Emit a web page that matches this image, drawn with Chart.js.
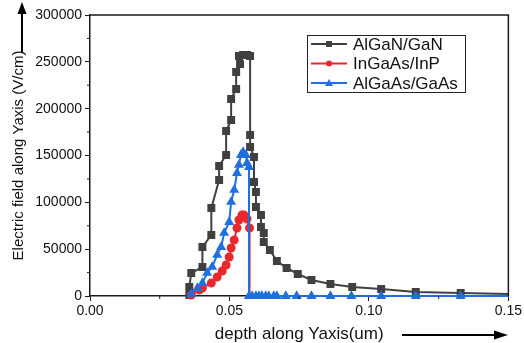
<!DOCTYPE html>
<html>
<head>
<meta charset="utf-8">
<script src="https://cdn.jsdelivr.net/npm/chart.js@4.4.1/dist/chart.umd.min.js"></script>
<style>
  html, body { margin: 0; padding: 0; background: #fff; }
  #wrap { width: 524px; height: 343px; }
</style>
</head>
<body>
<div id="wrap"><canvas id="fieldChart"></canvas></div>
<script>
// series: depth (um) and field (V/cm)
const seriesNames = ['AlGaN/GaN', 'InGaAs/InP', 'AlGaAs/GaAs'];

const alganX = [0.0356, 0.0356, 0.0363, 0.0403, 0.0403, 0.0435, 0.0435, 0.0463, 0.0463, 0.0488,
                0.0488, 0.0506, 0.0506, 0.0524, 0.0524, 0.0538, 0.0534, 0.0549, 0.0563, 0.0574,
                0.0574, 0.0574, 0.0588, 0.0588, 0.0595, 0.0595, 0.0613, 0.0613, 0.0623, 0.0623,
                0.0645, 0.0670, 0.0705, 0.0745, 0.0794, 0.0862, 0.0940, 0.1044, 0.1168, 0.1329,
                0.1500];
const alganY = [1000, 9600, 24500, 31000, 52300, 65100, 94000, 123800, 138800, 150500,
                176100, 187900, 210300, 221000, 239100, 247700, 256200, 257300, 257300, 256200,
                171900, 159100, 148400, 121700, 111000, 95000, 86500, 73700, 67300, 57600,
                49100, 37400, 29900, 23500, 17100, 12800, 9600, 7500, 4300, 3200,
                2100];

const ingaasX = [0.0363, 0.0392, 0.0403, 0.0435, 0.0456, 0.0474, 0.0488, 0.0499, 0.0506, 0.0517,
                 0.0527, 0.0534, 0.0545, 0.0552, 0.0563, 0.0572, 0.0572];
const ingaasY = [1100, 6400, 8500, 13900, 20300, 26700, 33100, 41600, 51200, 59800,
                 72600, 81100, 86500, 86500, 82200, 72600, 0];

const algaasX = [0.0363, 0.0385, 0.0403, 0.0420, 0.0438, 0.0456, 0.0470, 0.0481, 0.0499, 0.0506,
                 0.0517, 0.0527, 0.0534, 0.0541, 0.0549, 0.0559, 0.0563, 0.0570, 0.0570, 0.0581,
                 0.0595, 0.0606, 0.0616, 0.0630, 0.0641, 0.0659, 0.0670, 0.0702, 0.0741, 0.0794,
                 0.0862, 0.0937, 0.1044, 0.1168, 0.1329, 0.1500];
const algaasY = [2100, 8500, 13900, 24600, 31000, 43800, 52300, 67300, 79000, 100400,
                 113200, 131300, 139900, 150500, 153700, 150500, 142000, 137700, 0, 0,
                 0, 0, 0, 0, 0, 0, 0, 0, 0, 0,
                 0, 0, 0, 0, 0, 0];

const xTicks = [0, 0.05, 0.10, 0.15];
const yTicks = [0, 50000, 100000, 150000, 200000, 250000, 300000];

const toPoints = (xs, ys) => xs.map((x, i) => ({ x: x, y: ys[i] }));

// the curves end without a marker on their last point
const lastNoMarker = r => ctx => ctx.dataIndex === ctx.dataset.data.length - 1 ? 0 : r;

const axisColor = '#1a1a1a';
const fontFam = '"Liberation Sans", Arial, sans-serif';

// frame, minor ticks, arrows, boxed legend
const decorations = {
  id: 'decorations',
  afterDraw(chart) {
    const c = chart.ctx;
    const a = chart.chartArea;
    const xs = chart.scales.x, ys = chart.scales.y;
    c.save();
    c.strokeStyle = axisColor;
    c.lineWidth = 1.5;
    c.beginPath();
    c.moveTo(a.left, a.top); c.lineTo(a.right, a.top); c.lineTo(a.right, a.bottom);
    c.stroke();

    // minor ticks
    c.lineWidth = 1;
    c.beginPath();
    for (let i = 0; i < yTicks.length - 1; i++) {
      const py = ys.getPixelForValue((yTicks[i] + yTicks[i + 1]) / 2);
      c.moveTo(a.left, py); c.lineTo(a.left - 3, py);
    }
    for (let i = 0; i < xTicks.length - 1; i++) {
      const px = xs.getPixelForValue((xTicks[i] + xTicks[i + 1]) / 2);
      c.moveTo(px, a.bottom); c.lineTo(px, a.bottom + 3);
    }
    c.stroke();

    // arrows next to the axis titles
    c.fillStyle = '#000';
    c.strokeStyle = '#000';
    c.lineWidth = 2;
    c.beginPath(); c.moveTo(22, 52); c.lineTo(22, 12); c.stroke();
    c.beginPath(); c.moveTo(22, 2); c.lineTo(17.5, 14); c.lineTo(26.5, 14); c.closePath(); c.fill();
    c.beginPath(); c.moveTo(402, 335); c.lineTo(496, 335); c.stroke();
    c.beginPath(); c.moveTo(508, 335); c.lineTo(494, 330.5); c.lineTo(494, 339.5); c.closePath(); c.fill();

    // legend box
    const bx = 307, by = 35, bw = 158, bh = 57;
    c.lineWidth = 1;
    c.strokeStyle = '#222';
    c.strokeRect(bx + 0.5, by + 0.5, bw, bh);
    c.font = '17px ' + fontFam;
    c.textBaseline = 'middle';
    chart.data.datasets.forEach((ds, i) => {
      const ry = by + 9 + i * 19.5;
      c.strokeStyle = ds.borderColor;
      c.lineWidth = 2;
      c.beginPath(); c.moveTo(bx + 4, ry); c.lineTo(bx + 40, ry); c.stroke();
      c.fillStyle = ds.borderColor;
      const mx = bx + 22;
      c.beginPath();
      if (ds.pointStyle === 'rect') c.rect(mx - 3, ry - 3, 6, 6);
      else if (ds.pointStyle === 'circle') c.arc(mx, ry, 3, 0, Math.PI * 2);
      else { c.moveTo(mx, ry - 4); c.lineTo(mx - 4, ry + 3); c.lineTo(mx + 4, ry + 3); c.closePath(); }
      c.fill();
      c.fillStyle = '#111';
      c.fillText(ds.label, bx + 46, ry + 1);
    });
    c.restore();
  }
};

const ctx = document.getElementById('fieldChart').getContext('2d');
const fieldChart = new Chart(ctx, {
  type: 'scatter',
  data: {
    datasets: [
      {
        label: seriesNames[0],
        data: toPoints(alganX, alganY),
        showLine: true,
        borderColor: '#404040',
        backgroundColor: '#404040',
        borderWidth: 2,
        pointStyle: 'rect',
        pointRadius: lastNoMarker(4.2),
        order: 2,
        clip: false
      },
      {
        label: seriesNames[1],
        data: toPoints(ingaasX, ingaasY),
        showLine: true,
        borderColor: '#e8282c',
        backgroundColor: '#e8282c',
        borderWidth: 2,
        pointStyle: 'circle',
        pointRadius: lastNoMarker(3.5),
        order: 1,
        clip: false
      },
      {
        label: seriesNames[2],
        data: toPoints(algaasX, algaasY),
        showLine: true,
        borderColor: '#1f6fe0',
        backgroundColor: '#1f6fe0',
        borderWidth: 2,
        pointStyle: 'triangle',
        pointRadius: lastNoMarker(3.8),
        order: 0,
        clip: false
      }
    ]
  },
  options: {
    responsive: true,
    maintainAspectRatio: false,
    animation: false,
    layout: { padding: { top: 15, right: 13, left: 0, bottom: 0 } },
    scales: {
      x: {
        type: 'linear',
        min: 0,
        max: 0.15,
        afterBuildTicks: s => { s.ticks = xTicks.map(v => ({ value: v })); },
        afterFit: s => { s.height = 47; },
        border: { display: true, color: axisColor, width: 1.5 },
        grid: { drawOnChartArea: false, drawTicks: true, tickLength: 5, tickColor: axisColor },
        ticks: {
          color: '#111',
          font: { family: fontFam, size: 14 },
          padding: 2,
          maxRotation: 0,
          callback: v => v.toFixed(2)
        },
        title: {
          display: true,
          text: 'depth along Yaxis(um)',
          color: '#111',
          font: { family: fontFam, size: 17 },
          padding: { top: 0, bottom: -2 }
        }
      },
      y: {
        type: 'linear',
        min: 0,
        max: 300000,
        afterBuildTicks: s => { s.ticks = yTicks.map(v => ({ value: v })); },
        afterFit: s => { s.width = 90; },
        border: { display: true, color: axisColor, width: 1.5 },
        grid: { drawOnChartArea: false, drawTicks: true, tickLength: 5, tickColor: axisColor },
        ticks: {
          color: '#111',
          font: { family: fontFam, size: 14 },
          padding: 3,
          callback: v => String(v)
        },
        title: {
          display: true,
          text: 'Electric field along Yaxis (V/cm)',
          color: '#111',
          font: { family: fontFam, size: 15 },
          padding: { top: 10, bottom: 0 }
        }
      }
    },
    plugins: {
      legend: { display: false },
      tooltip: { enabled: false }
    }
  },
  plugins: [decorations]
});
</script>
</body>
</html>
